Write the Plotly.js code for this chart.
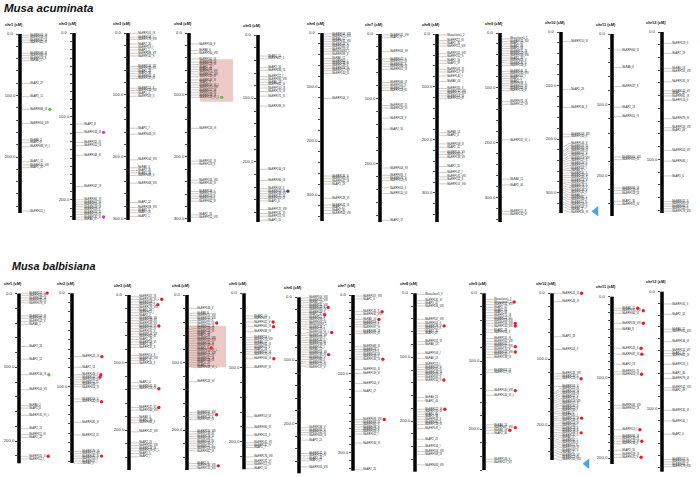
<!DOCTYPE html>
<html><head><meta charset="utf-8">
<script src="https://cdn.plot.ly/plotly-3.0.1.min.js"></script>
<style>html,body{margin:0;padding:0;background:#fff}#chart{width:700px;height:477px}</style>
</head><body><div id="chart"></div>
<script>
// ---------------- DATA ----------------
const chromNames = ['chr1','chr2','chr3','chr4','chr5','chr6','chr7','chr8','chr9','chr10','chr11','chr12'];
const acuLengths = [291,224,302,305,295,348,290,355,344,338,257,142];
const balLengths = [230,182,259,259,237,279,223,279,260,253,207,154];

const acu1Genes = ['MaERF050_IX','MaERF059_IX','MaERF060_IX','MaERF061_III','MaERF069_III','MaERF068_III','MaERF074_X','MaRAV_1','MaAP2_27','MaAP2_11','MaERF084_IX','MaERF050_VIII','MaRAV_2','MaAP2_8','MaERF088_VI_L','MaAP2_12','MaERF145_VIII','MaAP2_20','MaERF111_I'];
const acu1Pos = [2.7,6,9.8,13.5,31.4,35.2,39,43.4,80.2,101.9,122.5,145.3,172.4,176.7,183.2,207.6,213,217.3,287.8];
const acu2Genes = ['MaAP2_8','MaERF143_III','MaERF055_III','MaERF010_IX','MaERF049_III','MaERF047_IX','MaERF081_VI','MaERF007_III','MaERF056_III','MaERF029_IX','MaERF029_II','MaERF019_III','MaERF123_III','MaERF135_III','MaRAV_3'];
const acu2Pos = [109,119,131,135,146.5,184,200,202.8,205.6,208,211,214.4,217.5,220.7,223];
const acu3Genes = ['MaERF101_IX','MaERF108_I','MaERF176_VIII','MaAP2_20','MaERF113_I','MaAP2_2','MaERF086_VII','MaERF132_V','MaERF144_VII','MaERF146_VII','MaAP2_28','MaAP2_36','MaERF044_IX','MaERF137_III','MaERF114_X','MaERF134_VIII','MaAP2_3','MaERF128_II','MaAP2_7','MaERF046_IX','MaERF164_VIII','MaRAV_4','MaAP2_40','MaAP2_39','MaERF088_II','MaERF066_VIII','MaAP2_22','MaERF168_VIII','MaAP2_5','MaAP2_31','MaAP2_1'];
const acu3Pos = [0.5,7,10.2,17.7,23.1,27.4,32.8,37.1,54.3,58.1,61.8,65.6,69.4,73.1,89.2,93,96.8,102.2,153.8,163.4,204.8,217.7,222,225.8,230.1,242.5,273.7,281.7,286,290.3,296.2];
const acu4Genes = ['MaERF106_V','MaRAV_6','MaERF160_VIII','MaERF102_IX','MaERF106_IX','MaERF124_IX','MaAP2_24','MaAP2_34','MaERF115_VIII','MaERF162_VIII','MaERF154_III','MaERF148_III','MaAP2_9','MaERF154_VI_L','MaERF175_VIII','MaERF157_IX','MaERF152_IX','MaERF158_IX','MaERF158_VI_L','MaERF126_VI','MaERF167_III','MaERF129_II','MaERF156_VIII','MaERF144_III','MaERF148_I','MaERF179_III','MaERF118_X','MaERF119_X','MaERF062_III','MaAP2_26','MaERF152_VIII'];
const acu4Pos = [17.7,28.5,32.8,41.9,47.3,51.1,54.8,58.6,62.4,66.1,70.4,75.8,80.1,83.9,87.6,91.9,95.7,100,103.8,153.8,206.9,211.3,237.6,241.9,255.9,259.7,263.4,267.2,271,293.5,297.3];
const acu5Genes = ['MaAP2_15','MaERF057_II','MaAP2_16','MaERF038_IV','MaERF112_I','MaERF095_VIII','MaRAV_18','MaERF062_III','MaERF150_IX','MaERF170_IX','MaERF071_III','MaERF098_III','MaERF144_IX','MaERF090_IX','MaERF014_II','MaERF023_IX','MaERF146_VII','MaERF125_IX','MaERF024_IX','MaAP2_6','MaERF175_VIII','MaERF132_VI','MaERF115_IV','MaAP2_10'];
const acu5Pos = [33.2,37.4,51.6,55.8,65.8,70,74.3,78.5,83.7,89.5,96.4,112.2,211.7,229.6,242.7,246.4,250.1,253.8,258,261.7,275.4,281.7,285.9,292.3];
const acu6Genes = ['MaERF106_VIII','MaERF071_VIII','MaRAV_11','MaERF131_VIII','MaERF128_V','MaERF085_IX','MaERF129_X','Musaclusin2_1','MaERF099_V','MaRAV_12','MaERF063_I','MaERF138_III','MaERF126_II','MaERF056_III','MaERF117_VII','MaERF140_III','MaERF104_V','MaERF136_V','MaERF063_III','MaERF042_IX','MaAP2_19','MaERF128_VI','MaERF077_IX','MaAP2_27','MaAP2_30','MaERF033_VIII'];
const acu6Pos = [1.9,6.8,11.1,15.4,20.4,24.7,29.6,34,38.9,47.5,51.9,56.2,60.5,65.4,69.7,74.7,121,264.8,269.8,274.7,279.6,306,318.5,323.5,328.4,334];
const acu7Genes = ['MaERF151_VIII','MaAP2_9','MaERF055_VII','MaERF022_II','MaERF017_III','MaERF097_II','MaERF088_IX','MaERF051_IX','MaERF066_III','MaERF116_II','MaERF119_I','MaERF116_III','MaERF067_III','MaERF129_VI','MaERF128_V','MaAP2_16','MaERF004_VII','MaERF091_V','MaERF076_V','MaERF013_III','MaERF016_II','MaERF120_VI','MaAP2_17'];
const acu7Pos = [1.5,5.1,27.2,38.5,42.6,46.2,50.3,54.4,74.9,79,83.1,87.2,110.3,114.4,129.7,146.7,206.7,218,222,226.2,237.4,246.2,287.2];
const acu8Genes = ['Musaclusin1_2','MaERF111_VI','MaAP2_35','MaERF115_VIII','MaERF161_VIII','MaERF152_X','MaAP2_16','MaAP2_37','MaERF105_III','MaERF117_VI','MaERF140_I','MaRAV_43','MaERF165_II','MaERF132_VIII','MaERF171_VIII','MaERF103_III','MaERF051_III','MaRAV_14','MaAP2_4','MaERF108_III','MaAP2_41','MaERF144_VII','MaERF060_II','MaERF133_VII','MaAP2_20','MaERF147_I','MaERF141_VIII','MaERF152_II','MaERF157_VIII'];
const acu8Pos = [1.9,12.6,17.6,22.6,36.5,42.8,50.3,55.3,66.7,71.7,79.2,89.9,103.1,107.5,111.9,117,122,186.2,191.2,207.5,213.8,222.6,227.7,232.7,250.3,261.6,269.8,274.2,283];
const acu9Genes = ['Musaclusin1_1','MaERF132_VIII','MaAP2_42','MaAP2_43','MaAP2_33','MaERF172_IX','MaERF122_VI','MaERF058_VIII','MaAP2_18','MaERF053_V','MaERF136_X','MaERF156_X','MaERF145_III','MaERF165_VIII','MaERF161_I','MaAP2_5','MaAP2_7','MaERF138_X','MaERF161_VI','MaERF105_III','MaERF170_V','MaERF076_IX','MaERF122_VII','MaERF167_VI_L','MaRAV_15','MaAP2_44','MaERF112_X','MaERF132_VI'];
const acu9Pos = [11.5,15.8,20,24.2,28.5,32.7,37,41.2,45.5,49.7,53.9,58.8,70.3,74.5,78.8,83,87.3,91.5,95.8,100,104.8,124.8,129.7,194.5,266,276.4,324.8,329.7];
const acu10Genes = ['MaERF110_VI','MaAP2_29','MaERF106_II','MaERF103_VIII','MaERF150_X','MaERF144_V','MaERF101_III','MaERF105_IV','MaERF106_III','MaERF107_V','MaERF131_II','MaERF119_VIII','MaERF127_X','MaERF144_II','MaERF112_V','MaERF164_I','MaRAV_9','MaERF120_I','MaERF120_III','MaERF144_X','MaERF116_VI','MaERF149_I','MaERF173_II','MaERF178_V','MaERF146_V','MaERF132_II','MaRAV_5','MaERF162_I','MaERF160_II','MaERF111_II','MaERF153_V','MaERF163_II','MaRAV_3','MaERF135_VI'];
const acu10Pos = [18.1,107.2,140.8,190.7,195.6,213.1,221,224,228,231,236,240,243,247,252,256,259,264,268,271,276,280,283,288,292,296,300,304,309,313,318,322,327,333];
const acu11Genes = ['MaERF064_III','MaRAV_8','MaERF037_X','MaAP2_13','MaERF051_III','MaERF064_VIII','MaERF055_IX','MaERF094_IX','MaERF133_III','MaERF128_IX','MaAP2_30','MaERF075_IV'];
const acu11Pos = [22.5,47.4,74.2,103.3,116.4,173.7,177.5,217.4,221.1,224.9,236.2,240.8];
const acu12Genes = ['MaERF129_II','MaAP2_19','MaRAV_16','MaERF155_VIII','MaERF131_IV','MaERF142_VII','MaAP2_40','MaERF061_IX','MaERF123_II','MaERF079_IV','MaERF150_VIII','MaAP2_49','MaERF143_VII','MaERF094_I','MaAP2_6','MaERF157_II','MaERF093_III','MaERF064_II','MaERF143_II','MaERF179_VIII'];
const acu12Pos = [8.9,16.8,28.6,30.7,39.1,46.2,48.3,50.1,53.5,68,75.1,77.2,92.9,101.3,112.9,133.1,134.9,136.7,138.6,140.4];

const bal1Genes = ['MaERF101_I','MaERF050_IX','MaERF038_IX','MaERF035_IX','MaERF079_III','MaERF103_III','MaERF081_III','MaERF102_V','MaRAV_1','MaAP2_26','MaAP2_12','MaERF134_IX','MaERF105_VII','MaRAV_2','MaAP2_8','MaERF131_VI_L','MaAP2_21','MaERF111_VI','MaAP2_22','MaERF101_V','MaERF111_I'];
const bal1Pos = [0,2.9,6.1,9.2,12.4,30.4,33.6,38.1,41.7,71.8,89,110.1,130.4,152,155.2,165.1,183.1,191.2,194.8,220.5,224.1];
const bal2Genes = ['MaERF124_IX','MaAP2_14','MaERF049_II','MaERF144_I','MaERF162_VII','MaERF111_III','MaERF148_I','MaERF054_IX','MaERF103_II','MaERF032_III','MaERF085_III','MaERF111_IX','MaERF128_VI','MaERF112_VII','MaERF045_III','MaERF013_II','MaERF021_I','MaRAV_3'];
const bal2Pos = [67.9,79.3,87.6,90,92.6,95,97.6,100.1,113.3,116.2,138.3,151.9,169.7,172.2,174.7,177.2,179.7,182];
const bal3Genes = ['MaERF107_IX','MaERF130_VI_L','MaERF108_I','MaERF062_II','MaERF176_VIII','MaAP2_29','MaERF111_I','MaAP2_2','MaERF086_VII','MaERF146_VII','MaERF148_VII','MaERF044_IX','MaERF137_III','MaERF132_V','MaERF144_VII','MaERF062_III','MaAP2_28','MaERF153_VI','MaAP2_36','MaERF137_II','MaERF114_X','MaERF130_VIII','MaAP2_3','MaERF126_II','MaAP2_6','MaERF145_XI','MaERF153_IX','MaERF027_VI','MaERF169_VIII','MaRAV_4','MaAP2_39','MaERF068_II','MaERF147_VIII','MaAP2_20','MaERF162_VIII','MaERF128_IX','MaERF170_VI_L','MaAP2_5','MaAP2_7'];
const bal3Pos = [2.5,6.4,10.4,14.3,18.3,22.2,26.2,30.1,34.1,38,42,45.9,49.9,53.8,57.8,61.7,65.7,69.6,73.6,77.5,89.4,93.3,97.3,101.2,129.9,134.8,138.8,166.4,170.4,181.2,185.2,189.1,202.5,218.8,222.7,226.7,230.6,234.6,239.5];
const bal4Genes = ['MaERF149_V','MaRAV_6','MaERF172_VIII','MaERF155_VIII','MaERF125_II','MaERF115_IX','MaERF102_IX','MaERF106_IX','MaERF124_IX','MaAP2_24','MaAP2_34','MaERF115_VIII','MaERF162_VIII','MaERF154_III','MaERF148_III','MaAP2_9','MaERF154_VI_L','MaERF175_VIII','MaERF157_IX','MaERF152_IX','MaERF158_IX','MaAP2_10','MaAP2_11','MaERF158_VI_L','MaERF126_VI','MaERF167_VIII','MaERF168_III','MaERF123_II','MaERF087_IV','MaERF150_VIII','MaERF134_III','MaERF179_III','MaERF168_I','MaERF118_III','MaERF130_V','MaERF147_V','MaERF119_VIII','MaERF062_III','MaAP2_8','MaERF136_VIII','MaERF131_VIII'];
const bal4Pos = [19.8,27.2,30.6,34.1,37.5,41,45.9,50.9,54.3,57.8,61.2,64.7,68.2,71.6,75.1,78.5,82,85.4,88.9,92.4,95.8,99.3,102.7,106.2,128.4,173.8,177.3,180.7,184.2,202.5,205.9,209.4,212.8,216.3,219.8,223.2,226.7,230.1,249.4,252.8,256.3];
const bal5Genes = ['MaAP2_15','MaERF057_II','MaERF022_V','MaERF065_III','MaERF098_IV','MaERF116_I','MaERF175_VIII','MaRAV_12','MaERF162_III','MaERF071_II','MaAP2_16','MaERF150_IX','MaERF170_IX','MaERF164_IX','MaERF097_III','MaERF110_IX','MaERF090_IX','MaERF125_II','MaERF142_VII','MaERF132_IV','MaAP2_7','MaERF176_VIII','MaERF132_VI','MaERF115_IV','MaAP2_10'];
const bal5Pos = [30.6,34.2,38.7,45,51.7,59.8,62.9,66,69.2,72.4,75.5,78.7,81.8,88.1,99.7,166.3,181.1,191,201.3,204.4,207.6,220.2,226.9,230.1,235.8];
const bal6Genes = ['MaERF104_VIII','MaERF071_VIII','MaRAV_10','MaERF131_VIII','MaERF128_V','MaERF085_IX','MaERF029_X','MaAP2_32','MaERF117_V','MaERF099_II','MaERF063_III','Musaclusin2_1','MaERF138_I','MaERF125_II','MaERF106_VI_L','MaERF126_VII','MaERF056_V','MaERF140_I','MaERF117_III','MaERF138_III','MaERF141_I','MaRAV_12','MaERF109_VII','MaERF136_III','MaERF040_V','MaERF066_II','MaERF100_II','MaERF121_III','MaERF127_V','MaERF036_V','MaERF091_V','MaERF042_III','MaERF063_IX','MaAP2_21','MaERF142_VI','MaERF132_IV','MaAP2_44','MaAP2_27','MaERF055_VIII'];
const bal6Pos = [1.6,5.3,9,12.7,16.5,20.2,23.9,27.6,31.3,35,38.7,42.4,46.1,49.8,57.2,60.9,64.6,68.3,72,75.7,79.4,83.1,86.8,90.5,94.2,97.9,101.6,105.3,109,206.9,210.6,214.3,218,226.5,247.7,251.4,255.1,258.8,268.8];
const bal7Genes = ['MaERF107_VIII','MaAP2_6','MaERF141_X','MaERF031_VIII','MaRAV_10','MaERF026_II','MaERF017_II','MaERF097_III','MaERF088_IX','MaERF051_III','MaERF068_III','MaERF124_I','MaERF119_II','MaERF116_III','MaERF133_V','MaERF133_IV','MaERF055_III','MaERF129_VI','MaERF104_V','MaAP2_17','MaERF083_VIII','MaERF093_III','MaERF091_V','MaERF076_V','MaERF013_V','MaERF016_II','MaERF021_I','MaERF130_VI','MaAP2_24'];
const bal7Pos = [1.3,5.1,21.2,24.6,31,34.4,37.3,40.3,45.8,48.8,65.7,69.1,72.1,75.1,78.5,81.4,94.6,99.7,112.4,122.1,158.2,161.2,164.5,167.5,170.5,173.4,176.4,187.9,221.8];
const bal8Genes = ['Musaclusin1_3','MaERF120_VI','MaAP2_41','MaERF106_VIII','MaERF167_VIII','MaERF105_II','MaERF139_V','MaERF117_II','MaAP2_35','MaAP2_37','MaERF151_III','MaRAV_13','MaERF104_I','MaRAV_15','MaERF113_I','MaERF119_V','MaERF161_III','MaERF143_III','MaERF103_III','MaERF165_II','MaERF150_II','MaRAV_24','MaAP2_44','MaERF122_VI','MaERF152_III','MaAP2_45','MaAP2_38','MaERF144_II','MaERF060_II','MaERF133_III','MaERF147_I','MaAP2_25','MaERF105_I','MaERF104_VIII','MaERF108_III','MaERF063_VIII'];
const bal8Pos = [1.6,11.5,15.7,19.8,40.7,46.9,51.1,54.7,58.9,63.1,75.6,79.7,93.8,101.6,112,115.7,119.3,123,126.6,130.3,135.5,163.1,168.3,181.3,185.5,189.1,192.8,196.9,201.1,205.3,211.5,228.2,239.6,247.5,251.6,268.3];
const bal9Genes = ['Musaclusin1_1','Musaclusin1_2','MaERF132_VIII','MaAP2_42','MaAP2_43','MaAP2_33','MaERF172_IX','MaERF122_VI','MaERF058_VIII','MaERF156_VIII','MaERF150_VIII','MaAP2_18','MaERF136_X','MaERF105_III','MaERF165_VIII','MaERF161_I','MaERF157_VIII','MaERF170_V','MaERF158_VIII','MaERF145_I','MaERF138_IX','MaERF053_IX','MaERF117_VI','MaERF140_VIII','MaERF140_VI_L','MaRAV_15','MaERF167_VIII','MaRAV_16','MaAP2_40','MaERF146_V','MaERF117_VII'];
const bal9Pos = [8.9,12.8,16.7,20.6,24.6,28.5,32.4,36.3,40.2,44.2,48.1,54,57.9,66.7,70.6,74.6,78.5,82.4,86.3,90.2,94.2,112.8,116.7,143.2,150,193.7,197.6,201.5,205.9,244.2,248.1];
const bal10Genes = ['MaERF155_III','MaERF144_VI','MaAP2_28','MaERF105_II','MaERF156_VIII','MaERF148_II','MaERF153_V','MaERF103_V','MaERF101_III','MaERF105_IV','MaERF106_III','MaERF107_V','MaERF131_II','MaERF119_VIII','MaERF127_X','MaERF144_II','MaERF112_V','MaERF164_I','MaRAV_9','MaERF120_I','MaERF120_III','MaERF144_X','MaERF116_VI','MaERF149_I','MaERF173_II','MaERF178_V','MaERF146_V','MaERF132_II','MaRAV_5','MaERF162_I','MaERF160_II','MaERF111_II','MaERF153_VI','MaERF163_II','MaRAV_3','MaERF135_VI','MaERF117_III','MaERF161_VIII'];
const bal10Pos = [0,12.7,65.9,85.2,121.6,125.7,129.7,141.9,150,152,156,160,163,166,170,173,176,180,183,187,190,193,197,200,203,207,211,214,217,221,224,227,231,234,238,242,246,251];
const bal11Genes = ['MaRAV_11','MaERF133_VIII','MaERF064_III','MaERF159_VIII','MaRAV_8','MaERF124_X','MaERF037_VI','MaAP2_13','MaERF051_III','MaERF054_III','MaERF064_VIII','MaERF055_IX','MaERF113_I','MaERF094_IX','MaERF133_III','MaERF128_VI','MaERF136_II','MaAP2_31','MaERF128_IX','MaERF075_V'];
const bal11Pos = [14.4,17.2,20.5,32.9,39.9,63.7,71.1,83.5,93,95.8,134.5,137.8,164.6,172.8,175.7,179,181.9,190.1,195.4,198.7];
const bal12Genes = ['MaERF161_II','MaAP2_18','MaRAV_11','MaERF135_VIII','MaERF146_IX','MaERF142_VII','MaAP2_41','MaERF061_IX','MaERF123_II','MaAP2_36','MaERF079_IX','MaERF142_VIII','MaAP2_49','MaERF135_III','MaERF141_I','MaAP2_6','MaERF157_II','MaERF093_III','MaERF064_II','MaERF179_VIII'];
const bal12Pos = [10.5,19.4,32.2,34.2,42.8,50.5,52.8,54.8,62,69.9,74.2,82.2,84.2,101.4,110.5,121.9,143.6,145.6,147.6,149.6];

// highlighted genes (chromosome number, gene, mark type)
const acuDotChr = [1,4,2,2,5];
const acuDotGene = ['MaERF084_IX','MaERF158_VI_L','MaERF143_III','MaERF135_III','MaERF023_IX'];
const acuDotType = ['green','green','magenta','magenta','purple'];
const balDotChr = [1,1,1, 2,2,2,2,2, 3,3,3,3,3, 4,4,4,4, 5,5,5, 6,6,6,6, 7,7,7,7, 8,8,8, 9,9,9,9,9,9,9,9, 10,10,10,10, 11,11,11,11,11,11,11,11,11];
const balDotGene = ['MaERF101_I','MaERF134_IX','MaERF101_V',
 'MaERF124_IX','MaERF049_II','MaERF144_I','MaERF032_III','MaERF045_III',
 'MaERF130_VI_L','MaERF062_II','MaERF044_IX','MaERF153_IX','MaERF027_VI',
 'MaERF115_IX','MaAP2_9','MaERF168_III','MaERF136_VIII',
 'MaERF022_V','MaERF065_III','MaERF164_IX',
 'MaERF128_V','MaAP2_32','MaERF106_VI_L','MaERF136_III',
 'MaERF141_X','MaRAV_10','MaERF133_IV','MaERF083_VIII',
 'MaERF139_V','MaERF150_II','MaERF122_VI',
 'Musaclusin1_2','MaERF156_VIII','MaERF150_VIII','MaERF157_VIII','MaERF158_VIII','MaERF140_VIII','MaERF167_VIII','MaRAV_16',
 'MaERF155_III','MaERF153_V','MaERF120_III','MaERF146_V',
 'MaRAV_11','MaERF133_VIII','MaERF159_VIII','MaERF124_X','MaERF037_VI','MaERF054_III','MaERF113_I','MaERF128_VI','MaERF075_V'];
const balDotType = ['red','green','red', 'red','red','red','red','red', 'red','red','red','red','red', 'red','red','red','red', 'red','red','red', 'red','red','red','red', 'red','red','red','red', 'red','red','red', 'red','red','red','red','red','red','red','red', 'red','red','red','red', 'red','red','red','red','red','red','red','red','red'];
// highlighted regions (chromosome, start cM, end cM)
const acuRegion = [4, 42.4, 110.8];
const balRegion = [4, 46, 107];
// blue arrow marks (chromosome, cM)
const acuArrow = [10, 334.6];
const balArrow = [10, 258.7];

// ---------------- LAYOUT CONSTANTS ----------------
const W = 700, H = 477;
const acuBarX = [20,74,128,189,258,322,380,437,500,561,612,662];
const acuTopPx = [34,33,33,33,35,33,34,34,33,32,34,32];
const acuBotPx = [213,220,220,222,222,221,222,222,222,213,216,213];
const balBarX = [19,72,129,187,244,299,353,415,484,552,612,662];
const balTopPx = [293.5,293.3,295,295,293.3,297.3,295,293.3,293.3,293.3,296.7,291.7];
const balBotPx = [463.3,463,470,470,469.3,473.3,470.7,471.7,470,460,464,471.7];
const dotColor = {green:'#66c04a', red:'#ee1c24', magenta:'#d23cd2', purple:'#5a34c8'};
const LABEL_SIZE = 2.6, LABEL_FAMILY = '"Liberation Sans", Arial, sans-serif';
const BAR_HALF = 1.75, TEXT_X = 10.2, GAP = 2.45, LEFT = 24;

const ctx = document.createElement('canvas').getContext('2d');
ctx.font = '100px "Liberation Sans"';
function textW(s){ return ctx.measureText(s).width / 100 * LABEL_SIZE; }

const traces = [];
const layout = {
  width: W, height: H, margin:{l:0,r:0,t:0,b:0}, showlegend:false,
  paper_bgcolor:'#ffffff', plot_bgcolor:'rgba(0,0,0,0)',
  annotations:[], shapes:[], hovermode:false
};
let axN = 0;

function spread(ps, gap){
  const blocks = [];
  ps.forEach((p)=>{
    blocks.push({n:1, sum:p});
    while(blocks.length>1){
      const B = blocks[blocks.length-1], A = blocks[blocks.length-2];
      const sA = A.sum/A.n, sB = B.sum/B.n;
      if (sB < sA + A.n*gap){
        const sumB = B.sum - B.n*A.n*gap;
        blocks.splice(blocks.length-2, 2, {n:A.n+B.n, sum:A.sum+sumB});
      } else break;
    }
  });
  const out = [];
  blocks.forEach(b=>{ const s=b.sum/b.n; for(let j=0;j<b.n;j++) out.push(s+j*gap); });
  return out;
}

function addPanel(genesArr, posArr, lengths, barX, topPx, botPx, dChr, dGene, dType, region, arrow, isTop){
  for (let c=0;c<12;c++){
    axN++;
    const sfx = axN===1?'':axN;
    const xa = 'x'+sfx, ya = 'y'+sfx;
    const L = lengths[c], bx = barX[c];
    const k = (botPx[c]-topPx[c])/L;
    const wr = Math.min(48, W-bx);
    const left = Math.min(LEFT, bx);
    layout['xaxis'+sfx] = {domain:[(bx-left)/W, (bx+wr)/W], range:[-left, wr], visible:false, fixedrange:true};
    const dt = k < 0.75 ? 20 : 10;
    const tv = []; for (let v=0; v<=L+0.01; v+=dt) tv.push(v);
    layout['yaxis'+sfx] = {domain:[0,1], range:[(H-topPx[c])/k, -topPx[c]/k], anchor:'free', position:(bx-BAR_HALF)/W,
      showgrid:false, zeroline:false, showline:false, ticks:'outside', ticklen:2.2, tickwidth:0.7, tickcolor:'#000',
      tickvals:tv, showticklabels:false, fixedrange:true};
    // region
    if (region[0]===c+1){
      layout.shapes.push({type:'rect', xref:xa, yref:ya, x0:(isTop?11:BAR_HALF), x1:(isTop?44:39), y0:region[1], y1:region[2],
        fillcolor:'rgba(214,128,118,0.42)', line:{width:0}, layer:'below'});
    }
    // bar
    traces.push({x:[0,0], y:[0,L], mode:'lines', line:{color:'#000', width:3.5}, xaxis:xa, yaxis:ya, hoverinfo:'skip'});
    // genes
    const names = genesArr[c], pos = posArr[c];
    const idx = names.map((_,i)=>i).sort((a,b)=>pos[a]-pos[b]);
    const sNames = idx.map(i=>names[i]), sPos = idx.map(i=>pos[i]);
    const lab = spread(sPos.map(p=>p*k), GAP).map(v=>v/k);
    const cx=[], cy=[];
    sPos.forEach((p,i)=>{ cx.push(BAR_HALF, 3.6, TEXT_X-2.2, TEXT_X, null); cy.push(p, p, lab[i], lab[i], null); });
    traces.push({x:cx, y:cy, mode:'lines', line:{color:'#8a8a8a', width:0.45}, xaxis:xa, yaxis:ya, hoverinfo:'skip'});
    traces.push({x:sNames.map(()=>TEXT_X), y:lab, text:sNames, mode:'text', textposition:'middle right',
      textfont:{size:LABEL_SIZE, family:LABEL_FAMILY, color:'#222'}, cliponaxis:false, xaxis:xa, yaxis:ya, hoverinfo:'skip'});
    // tick labels
    const tl=[]; for (let v=0; v<=L+0.01; v+=100) tl.push(v);
    traces.push({x:tl.map(()=>-10), y:tl, text:tl.map(v=>v.toFixed(1)), mode:'text', textposition:'middle center',
      textfont:{size:4.2, family:LABEL_FAMILY, color:'#333'}, cliponaxis:false, xaxis:xa, yaxis:ya, hoverinfo:'skip'});
    // dots
    const dx=[], dy=[], dc=[];
    dChr.forEach((ch,i)=>{ if (ch!==c+1) return; const j = sNames.indexOf(dGene[i]); if (j<0) return;
      dx.push(TEXT_X + 1.2 + textW(dGene[i]) + 1.4); dy.push(lab[j]); dc.push(dotColor[dType[i]]); });
    if (dx.length) traces.push({x:dx, y:dy, mode:'markers', marker:{size:3.4, color:dc}, cliponaxis:false, xaxis:xa, yaxis:ya, hoverinfo:'skip'});
    if (arrow[0]===c+1){
      traces.push({x:[35], y:[arrow[1]], mode:'markers', marker:{symbol:'triangle-left', size:9, color:'#4aa3ea'}, cliponaxis:false, xaxis:xa, yaxis:ya, hoverinfo:'skip'});
    }
    // header
    layout.annotations.push({xref:xa, yref:ya, x:-6, y:0, yshift:10, text:chromNames[c]+' (cM)', showarrow:false,
      xanchor:'center', yanchor:'middle', font:{size:3.9, family:LABEL_FAMILY, color:'#111', weight:'bold'}});
  }
}

addPanel([acu1Genes,acu2Genes,acu3Genes,acu4Genes,acu5Genes,acu6Genes,acu7Genes,acu8Genes,acu9Genes,acu10Genes,acu11Genes,acu12Genes],
         [acu1Pos,acu2Pos,acu3Pos,acu4Pos,acu5Pos,acu6Pos,acu7Pos,acu8Pos,acu9Pos,acu10Pos,acu11Pos,acu12Pos],
         acuLengths, acuBarX, acuTopPx, acuBotPx, acuDotChr, acuDotGene, acuDotType, acuRegion, acuArrow, true);
addPanel([bal1Genes,bal2Genes,bal3Genes,bal4Genes,bal5Genes,bal6Genes,bal7Genes,bal8Genes,bal9Genes,bal10Genes,bal11Genes,bal12Genes],
         [bal1Pos,bal2Pos,bal3Pos,bal4Pos,bal5Pos,bal6Pos,bal7Pos,bal8Pos,bal9Pos,bal10Pos,bal11Pos,bal12Pos],
         balLengths, balBarX, balTopPx, balBotPx, balDotChr, balDotGene, balDotType, balRegion, balArrow, false);

layout.annotations.push({xref:'paper', yref:'paper', x:2/W, y:1-0.5/H, xanchor:'left', yanchor:'top', showarrow:false,
  text:'<b><i>Musa acuminata</i></b>', font:{size:11.5, family:LABEL_FAMILY, color:'#111'}});
layout.annotations.push({xref:'paper', yref:'paper', x:10/W, y:1-257.5/H, xanchor:'left', yanchor:'top', showarrow:false,
  text:'<b><i>Musa balbisiana</i></b>', font:{size:10.8, family:LABEL_FAMILY, color:'#111'}});

Plotly.newPlot('chart', traces, layout, {staticPlot:true, displayModeBar:false});
</script>
</body></html>
